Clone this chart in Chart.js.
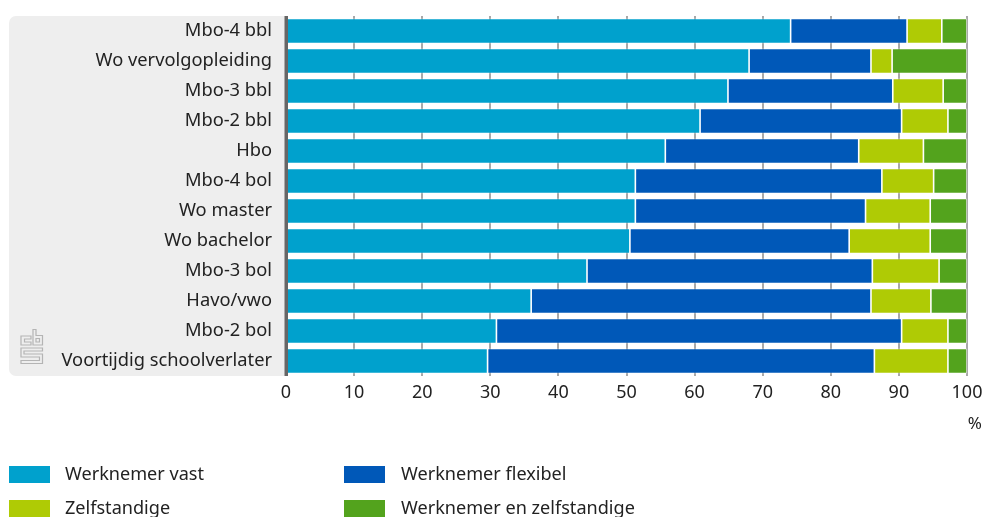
<!DOCTYPE html>
<html><head><meta charset="utf-8">
<style>html,body{margin:0;padding:0;background:#fff;overflow:hidden}#w{position:relative;width:985px;height:517px}</style>
<script src="https://cdn.jsdelivr.net/npm/chart.js@4"></script>
</head><body><div id="w"><canvas id="c" width="985" height="517"></canvas></div>
<script>
const categories=["Mbo-4 bbl","Wo vervolgopleiding","Mbo-3 bbl","Mbo-2 bbl","Hbo","Mbo-4 bol","Wo master","Wo bachelor","Mbo-3 bol","Havo/vwo","Mbo-2 bol","Voortijdig schoolverlater"];
const werknemerVast=[74.1,68.0,64.9,60.8,55.7,51.3,51.3,50.5,44.2,36.0,30.9,29.6];
const werknemerFlexibel=[17.1,17.9,24.2,29.6,28.4,36.2,33.8,32.2,41.9,49.9,59.5,56.8];
const zelfstandige=[5.1,3.1,7.4,6.8,9.5,7.6,9.5,11.9,9.8,8.8,6.8,10.8];
const werknemerEnZelfstandige=[3.7,11.0,3.5,2.8,6.4,4.9,5.4,5.4,4.1,5.3,2.8,2.8];
const seriesNames=["Werknemer vast","Werknemer flexibel","Zelfstandige","Werknemer en zelfstandige"];
const seriesColors=["#00a1cd","#0058b8","#afcb05","#53a31d"];
const xTicks=[0,10,20,30,40,50,60,70,80,90,100];
const FONT='"Noto Sans"';
const mk=(i,d)=>({label:seriesNames[i],data:d,backgroundColor:seriesColors[i],borderColor:'rgba(255,255,255,0.7)',borderWidth:0.8,borderSkipped:false,barPercentage:1,categoryPercentage:0.83});
const decor={id:'decor',
 beforeDraw(ch){const c=ch.ctx,a=ch.chartArea;c.save();
  c.fillStyle='#eeeeee';c.beginPath();c.roundRect(9,a.top,a.left-9,a.bottom-a.top,[7,0,0,7]);c.fill();c.restore();},
 afterDraw(ch){const c=ch.ctx,a=ch.chartArea;c.save();
  c.fillStyle='#666666';c.fillRect(a.left-1.5,a.top,3.5,a.bottom-a.top);
  c.fillStyle='#222';c.font='17px '+FONT;c.textBaseline='alphabetic';c.textAlign='right';c.fillText('%',982,429);
  c.textAlign='left';
  const pos=[[9,466,65],[344,466,401],[9,500,65],[344,500,401]];
  seriesNames.forEach((n,i)=>{const p=pos[i];c.fillStyle=seriesColors[i];c.fillRect(p[0],p[1],41,17);
   c.fillStyle='#222';c.font='18.1px '+FONT;c.fillText(n,p[2],p[1]+14);});
  c.strokeStyle='#b4b4b4';c.lineWidth=1.2;
  const poly=pts=>{c.beginPath();pts.forEach((p,i)=>i?c.lineTo(p[0],p[1]):c.moveTo(p[0],p[1]));c.closePath();c.stroke();};
  poly([[31,336],[21,336],[21,345],[31,345],[31,342],[24.5,342],[24.5,339],[31,339]]);
  poly([[33,329.5],[36,329.5],[36,335.5],[42.5,335.5],[42.5,345],[33,345]]);
  poly([[36,338.5],[39.5,338.5],[39.5,342],[36,342]]);
  poly([[21,348],[42.5,348],[42.5,351],[24,351],[24,354],[42.5,354],[42.5,363.5],[21,363.5],[21,360.5],[39.5,360.5],[39.5,357],[21,357]]);
  c.restore();}};
new Chart(document.getElementById('c'),{type:'bar',
 data:{labels:categories,datasets:[mk(0,werknemerVast),mk(1,werknemerFlexibel),mk(2,zelfstandige),mk(3,werknemerEnZelfstandige)]},
 plugins:[decor],
 options:{indexAxis:'y',responsive:false,animation:false,
  layout:{padding:{top:16,right:18,bottom:0,left:0}},
  plugins:{legend:{display:false},tooltip:{enabled:false}},
  scales:{
   x:{stacked:true,min:0,max:100,afterBuildTicks(s){s.ticks=xTicks.map(v=>({value:v}));},
    afterFit(s){s.height=517-376;s.paddingLeft=0;s.paddingRight=0;},
    grid:{color:'#a8a8a8',lineWidth:2,drawTicks:false},border:{display:false},
    ticks:{color:'#222',font:{family:FONT,size:18},padding:6,maxRotation:0}},
   y:{stacked:true,afterFit(s){s.width=286;s.paddingTop=0;s.paddingBottom=0;},
    grid:{display:false,drawTicks:false},border:{display:false},
    ticks:{color:'#222',font:{family:FONT,size:18.3},padding:14,autoSkip:false}}
  }}});
</script></body></html>
